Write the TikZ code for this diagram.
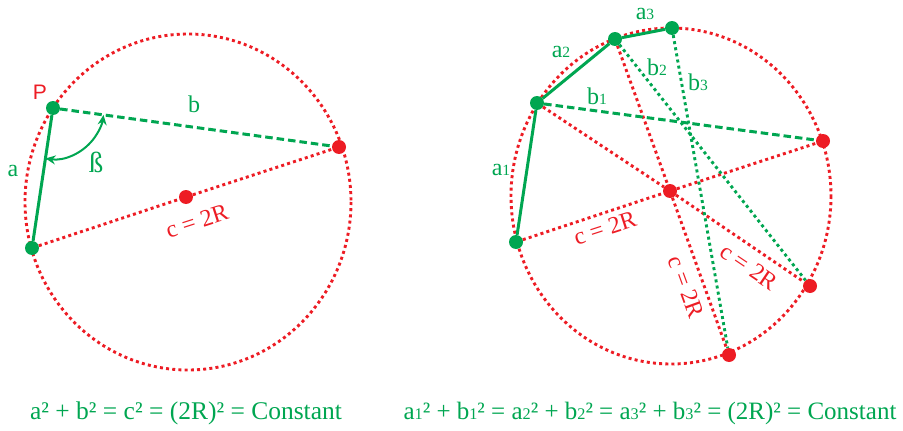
\documentclass[tikz,border=0pt]{standalone}
\usepackage{fontspec}
\setmainfont{Liberation Serif}
\newfontfamily\pfont{Liberation Sans}
\usetikzlibrary{arrows.meta}
\definecolor{ptred}{RGB}{237,28,36}
\definecolor{ptgreen}{RGB}{0,166,81}
\newcommand{\ix}[1]{\scalebox{0.65}{#1}}

\begin{document}
\begin{tikzpicture}[
    x=1pt, y=-1pt,
    rim/.style={draw=ptred, line width=2.9pt, dash pattern=on 3pt off 3.2pt},
    diam/.style={ptred, line width=2.9pt, dash pattern=on 3pt off 3.2pt},
    side/.style={ptgreen, line width=3pt},
    legdash/.style={ptgreen, line width=3pt, dash pattern=on 7.5pt off 4pt},
    legdot/.style={ptgreen, line width=2.9pt, dash pattern=on 3pt off 3.2pt},
    angarrow/.style={{Stealth[length=10pt,width=9pt]}-{Stealth[length=10pt,width=9pt]}, ptgreen, line width=2pt},
    rdot/.style={circle, fill=ptred, inner sep=0pt, minimum size=14pt},
    gdot/.style={circle, fill=ptgreen, inner sep=0pt, minimum size=14pt},
    glabel/.style={font=\fontsize{24}{24}\selectfont, text=ptgreen, inner sep=0pt},
    rlabel/.style={font=\fontsize{24}{24}\selectfont, text=ptred, inner sep=0pt},
    formula/.style={font=\fontsize{25.5}{25.5}\selectfont, text=ptgreen, inner sep=0pt}
]
    \useasboundingbox (0,0) rectangle (903,431);

    % left circle
    \coordinate (cL) at (188,202);
    \draw[rim] (cL) ellipse [x radius=163, y radius=168];
    \node[gdot] (P)  at (53,108) {};
    \node[gdot] (L1) at (32,248) {};
    \node[rdot] (L2) at (339,147) {};
    \node[rdot] (OL) at (186,197) {};

    \draw[diam] (L1) -- (OL);
    \draw[diam] (OL) -- (L2);
    \draw[side] (P) -- (L1);
    \draw[legdash] (P) -- (L2);
    \path (P) ++(98.5:51) coordinate (betaA);
    \draw[angarrow] (betaA) arc[start angle=98.5, end angle=7.8, radius=51];

    \node[rlabel, font=\fontsize{21}{21}\pfont] (Plab) at (40,92) {P};
    \node[glabel] (blab) at (194,104) {b};
    \node[glabel] (alab) at (13,171) {a};
    \node[glabel, font=\fontsize{29}{29}\selectfont] (betalab) at (96,162) {ß};
    \node[rlabel, rotate=18] (cLlab) at (197,221) {c = 2R};

    % right circle
    \coordinate (cR) at (671,196);
    \draw[rim] (cR) ellipse [x radius=160, y radius=168];
    \node[gdot] (A1) at (516,242) {};
    \node[gdot] (A2) at (537,103) {};
    \node[gdot] (A3) at (615,39) {};
    \node[gdot] (A4) at (672,28) {};
    \node[rdot] (OR) at (670,191) {};
    \node[rdot] (R1) at (823,141) {};
    \node[rdot] (R2) at (810,286) {};
    \node[rdot] (R3) at (729,355) {};

    \foreach \a/\r in {A1/R1, A2/R2, A3/R3} {
        \draw[diam] (\a) -- (OR);
        \draw[diam] (OR) -- (\r);
    }
    \draw[side] (A1) -- (A2);
    \draw[side] (A2) -- (A3);
    \draw[side] (A3) -- (A4);
    \draw[legdash] (A2) -- (R1);
    \draw[legdot] (A3) -- (R2);
    \draw[legdot] (A4) -- (R3);

    \node[glabel] (a3lab) at (645,14) {a\ix{3}};
    \node[glabel] (a2lab) at (561,52) {a\ix{2}};
    \node[glabel] (b2lab) at (657,67) {b\ix{2}};
    \node[glabel] (b3lab) at (698,82) {b\ix{3}};
    \node[glabel] (b1lab) at (597,96) {b\ix{1}};
    \node[glabel] (a1lab) at (501,170) {a\ix{1}};
    \node[rlabel, rotate=18]  (c1lab) at (605,228) {c = 2R};
    \node[rlabel, rotate=-70] (c3lab) at (686,287) {c = 2R};
    \node[rlabel, rotate=-34] (c2lab) at (749,267) {c = 2R};

    % formulas
    \node[formula] (eqL) at (186,413) {a² + b² = c² = (2R)² = Constant};
    \node[formula, font=\fontsize{25}{25}\selectfont] (eqR) at (650,413) {a\ix{1}² + b\ix{1}² = a\ix{2}² + b\ix{2}² = a\ix{3}² + b\ix{3}² = (2R)² = Constant};
\end{tikzpicture}
\end{document}
